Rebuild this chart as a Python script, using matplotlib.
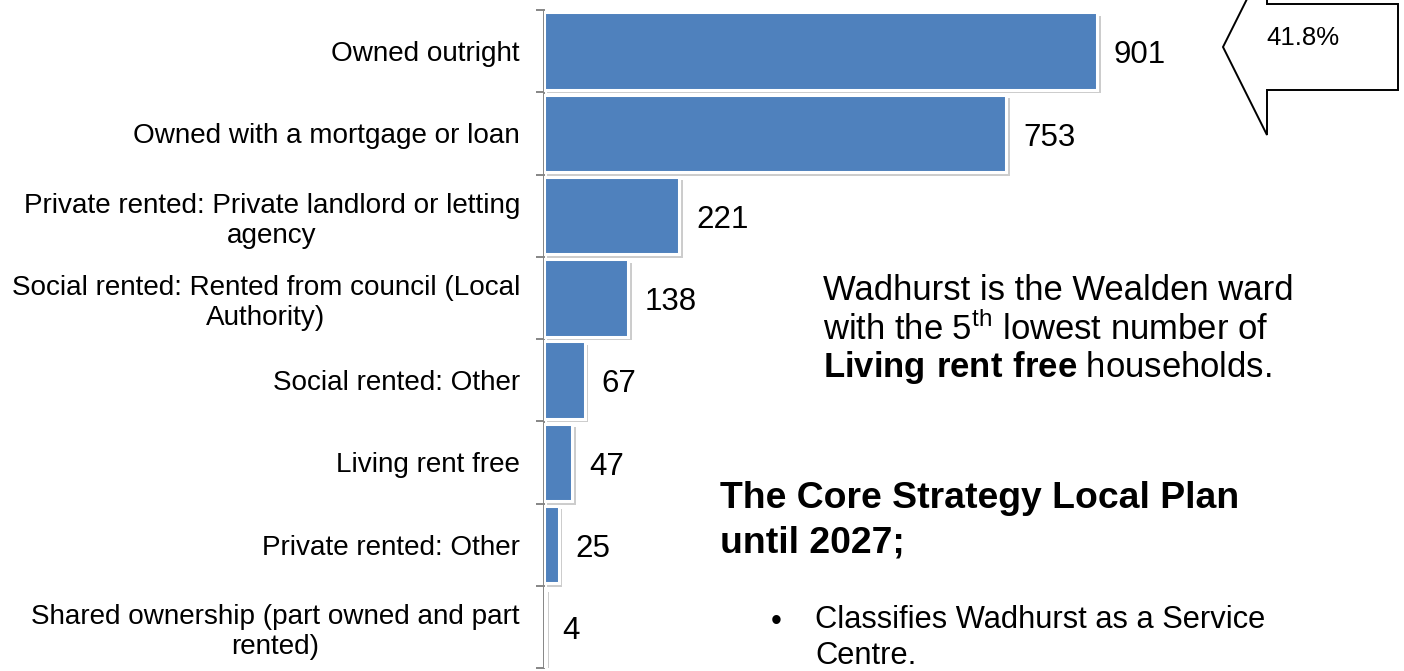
import matplotlib
matplotlib.use('Agg')
import matplotlib.pyplot as plt
import matplotlib.patheffects as pe
from matplotlib.patches import Polygon
import numpy as np

plt.rcParams['font.family'] = ['Liberation Sans', 'DejaVu Sans']
plt.rcParams['mathtext.fontset'] = 'custom'
plt.rcParams['mathtext.rm'] = 'Liberation Sans'
plt.rcParams['mathtext.bf'] = 'Liberation Sans:bold'
plt.rcParams['mathtext.default'] = 'regular'

# Tenure categories and household counts
categories = [
    'Owned outright',
    'Owned with a mortgage or loan',
    'Private rented: Private landlord or letting\nagency',
    'Social rented: Rented from council (Local\nAuthority)',
    'Social rented: Other',
    'Living rent free',
    'Private rented: Other',
    'Shared ownership (part owned and part\nrented)',
]
households = [901, 753, 221, 138, 67, 47, 25, 4]
share_label = '41.8%'

W, H = 1404, 671
bar_color = '#4F81BD'


def fx(px):
    return px / W


def fy(py):
    return 1 - py / H


fig = plt.figure(figsize=(W / 100, H / 100), dpi=100)
ax = fig.add_axes([fx(543.5), fy(668), (W - 543.5) / W, (668 - 10) / H])

ypos = np.arange(len(categories))
bars = ax.barh(ypos, households, height=0.94, color=bar_color,
               edgecolor='white', linewidth=2.2, zorder=3)
for b in bars:
    b.set_path_effects([pe.SimplePatchShadow(offset=(2.5, -2.5), shadow_rgbFace='#808080', alpha=0.4),
                        pe.Normal()])

# value labels at bar ends
for y, v in zip(ypos, households):
    ax.annotate(str(v), xy=(v, y), xytext=(12, -3), textcoords='offset points',
                ha='left', va='center', fontsize=22.5, color='black')

ax.set_xlim(0, 1400)
ax.set_ylim(len(categories) - 0.5, -0.5)

# ticks between categories, labels in the middle
ax.set_yticks(np.arange(-0.5, len(categories), 1))
ax.set_yticklabels([])
ax.set_yticks(ypos, minor=True)
ax.set_yticklabels(categories, minor=True, fontsize=20.1, multialignment='center')
ax.tick_params(axis='y', which='major', length=6, width=1.4, color='#868686', direction='out')
ax.tick_params(axis='y', which='minor', length=0, pad=17)
ax.set_xticks([])

for s in ['top', 'right', 'bottom']:
    ax.spines[s].set_visible(False)
ax.spines['left'].set_color('#868686')
ax.spines['left'].set_linewidth(1.4)

# left-pointing callout arrow in the corner
arrow_px = [(1398, 4), (1267, 4), (1267, -41), (1223, 47), (1267, 135), (1267, 90), (1398, 90)]
arrow = Polygon([(fx(x), fy(y)) for x, y in arrow_px], closed=True, transform=fig.transFigure,
                facecolor='white', edgecolor='black', linewidth=1.4, clip_on=False)
fig.add_artist(arrow)
fig.text(fx(1266), fy(38), share_label, fontsize=18.5, ha='left', va='center')

# commentary text on the right
fig.text(fx(823), fy(290), 'Wadhurst is the Wealden ward', fontsize=24.9, ha='left', va='center')
fig.text(fx(823), fy(329), 'with the 5$^{th}$ lowest number of', fontsize=24.9, ha='left', va='center')
fig.text(fx(823), fy(368), r'$\bf{Living\ rent\ free}$ households.', fontsize=24.9, ha='left', va='center')

fig.text(fx(720), fy(498), 'The Core Strategy Local Plan', fontsize=26.9, fontweight='bold',
         ha='left', va='center')
fig.text(fx(720), fy(543), 'until 2027;', fontsize=26.9, fontweight='bold', ha='left', va='center')

fig.text(fx(776), fy(622), '\u2022', fontsize=22.2, ha='center', va='center')
fig.text(fx(815), fy(620), 'Classifies Wadhurst as a Service', fontsize=22.2, ha='left', va='center')
fig.text(fx(815), fy(656), 'Centre.', fontsize=22.2, ha='left', va='center')

fig.savefig('out.png', dpi=100, facecolor='white')
